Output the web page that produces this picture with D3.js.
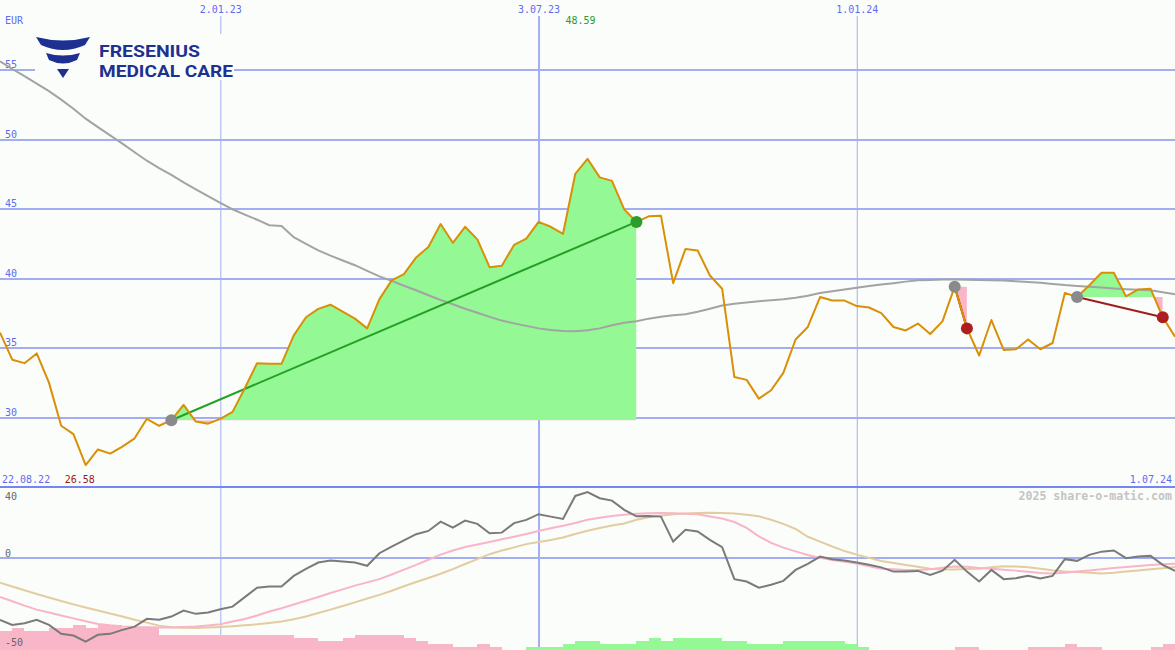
<!DOCTYPE html>
<html><head><meta charset="utf-8">
<script src="https://cdn.jsdelivr.net/npm/d3@7"></script>
<style>
html,body{margin:0;padding:0;background:#fbfdfb;}
svg{display:block;}
text{font-family:"DejaVu Sans Mono",monospace;font-size:10px;}
</style>
</head><body>
<svg id="c" width="1175" height="650"></svg>
<script>
// ---------- data (weekly, first week 29.08.22) ----------
const startDate = "2022-08-29";
const price = [36.1,34.15,33.9,34.6,32.5,29.4,28.8,26.58,27.7,27.4,
  27.9,28.5,29.9,29.4,29.8,30.9,29.7,29.55,29.9,30.4,
  32.1,33.9,33.85,33.85,35.9,37.2,37.8,38.1,37.6,37.1,
  36.4,38.5,39.85,40.3,41.5,42.25,43.9,42.55,43.7,42.8,
  40.8,40.9,42.4,42.85,44.05,43.7,43.2,47.5,48.59,47.25,
  47.0,44.95,44.05,44.45,44.5,39.65,42.1,42.0,40.2,39.25,
  32.9,32.7,31.35,31.95,33.2,35.6,36.5,38.65,38.4,38.4,
  38.0,37.9,37.5,36.5,36.25,36.75,36.0,36.9,39.4,36.4,
  34.45,37.0,34.85,34.9,35.6,34.9,35.35,38.95,38.65,39.5,
  40.4,40.4,38.7,39.2,39.25,37.2,35.8];
const movingAvg = [55.6,55.04,54.53,53.99,53.45,52.84,52.18,51.47,50.86,50.27,
  49.68,49.06,48.45,47.91,47.43,46.89,46.39,45.90,45.42,44.96,
  44.58,44.21,43.81,43.76,42.95,42.48,42.01,41.63,41.28,40.94,
  40.53,40.14,39.81,39.46,39.14,38.78,38.44,38.13,37.81,37.52,
  37.23,36.96,36.76,36.58,36.40,36.29,36.21,36.20,36.26,36.40,
  36.62,36.80,36.92,37.10,37.23,37.34,37.41,37.59,37.81,38.04,
  38.17,38.26,38.35,38.43,38.50,38.60,38.74,38.94,39.06,39.19,
  39.32,39.44,39.55,39.65,39.76,39.86,39.88,39.91,39.91,39.89,
  39.88,39.86,39.84,39.78,39.73,39.68,39.59,39.51,39.45,39.39,
  39.33,39.27,39.22,39.18,39.14,38.99,38.85];
const oscMain = [-43.7,-47.3,-46.1,-43.7,-47.3,-53.6,-54.8,-59.1,-54.3,-53.6,
  -50.8,-48.5,-43.0,-43.7,-41.4,-37.2,-39.5,-38.6,-36.2,-34.4,
  -27.7,-21.0,-20.2,-20.2,-12.7,-7.8,-3.3,-1.9,-2.6,-3.3,
  -5.6,3.3,8.0,12.3,16.7,19.0,25.6,21.4,26.3,24.0,
  17.4,17.8,24.5,26.8,30.8,29.1,27.5,43.7,46.4,42.1,
  40.4,33.9,29.3,29.6,29.1,11.5,19.8,18.6,12.7,7.5,
  -15.0,-16.7,-21.0,-19.0,-16.2,-8.5,-4.2,0.9,-0.9,-1.9,
  -3.2,-4.9,-6.7,-9.7,-9.7,-9.2,-12.0,-9.0,-1.4,-9.7,
  -16.7,-8.5,-15.0,-14.3,-12.7,-14.6,-12.7,-0.9,-2.1,2.1,
  4.4,5.2,-0.2,0.9,1.4,-4.9,-9.2];
const oscSignalPink = [-27.6,-30.6,-33.7,-36.5,-38.6,-40.7,-42.7,-44.7,-46.6,-47.6,
  -48.4,-48.8,-49.0,-49.1,-49.1,-48.8,-48.4,-47.7,-46.9,-44.9,
  -43.1,-40.7,-37.8,-35.5,-32.9,-30.3,-27.6,-24.8,-22.2,-19.6,
  -17.3,-15.0,-11.7,-8.3,-4.9,-1.3,2.3,5.2,7.7,9.4,
  11.2,13.1,14.9,16.8,19.0,20.9,22.7,24.6,26.9,28.3,
  29.5,30.5,31.1,31.4,31.7,31.4,31.2,30.7,29.2,27.8,
  25.3,21.1,15.2,10.6,7.2,4.6,2.0,0.0,-1.5,-2.8,
  -4.0,-5.9,-7.6,-8.1,-8.6,-8.6,-8.1,-7.0,-6.1,-6.2,
  -7.1,-7.7,-8.4,-9.0,-9.8,-10.7,-11.1,-10.5,-9.7,-8.9,
  -8.1,-7.1,-6.4,-5.7,-5.0,-4.5,-4.1];
const oscSignalTan = [-17.5,-20.2,-22.9,-25.5,-28.0,-30.4,-32.8,-35.0,-37.1,-39.3,
  -41.4,-43.6,-45.7,-47.8,-48.9,-49.3,-49.5,-49.2,-48.8,-48.3,
  -47.6,-46.9,-45.9,-44.9,-43.3,-41.3,-38.9,-36.5,-34.0,-31.4,
  -28.7,-26.1,-23.2,-20.0,-17.0,-14.2,-11.2,-7.9,-4.3,-0.9,
  2.6,5.2,7.4,9.7,11.2,12.6,14.4,16.8,19.1,21.1,
  22.8,24.3,26.9,28.6,29.8,30.7,31.3,31.7,31.8,31.6,
  31.3,30.5,29.3,26.9,24.0,20.4,14.9,11.5,8.0,4.8,
  2.3,0.0,-2.2,-3.6,-5.0,-6.3,-7.6,-8.2,-8.2,-7.9,
  -7.6,-6.6,-5.9,-6.1,-6.7,-7.7,-8.8,-9.6,-9.9,-10.5,
  -11.0,-10.5,-9.7,-8.9,-8.1,-7.3,-6.4];
const histogram = [-6,-7,-6,-6,-7,-7,-8,-7,-8,-8,
  -7,-7,-7,-5,-5,-5,-5,-5,-5,-5,
  -5,-5,-5,-5,-4,-4,-3,-3,-4,-5,
  -5,-5,-5,-4,-3,-2,-2,-1,-1,-2,
  -1,0,0,1,1,1,2,3,3,2,
  2,2,3,4,3,4,4,4,4,3,
  3,2,2,2,3,3,3,3,3,2,
  1,0,0,0,0,0,0,0,-1,-1,
  0,0,0,0,-1,-1,-1,-2,-1,-1,
  0,0,0,0,-1,-2];
const priceTicks = [30,35,40,45,50,55];
const oscTicks = [40,0,-50];
const dateTicks = ["2023-01-02","2023-07-03","2024-01-01"];
const dateTickLabels = ["2.01.23","3.07.23","1.01.24"];
const periodLabels = ["22.08.22","1.07.24"];
const signalStarts = [14,78,88];
const signalEnds = [52,79,95];

// ---------- setup ----------
const W = 1175, H = 650, mainBottom = 487;
const svg = d3.select("#c");
const parse = d3.timeParse("%Y-%m-%d");
const t0 = parse(startDate);
const dates = price.map((_, i) => d3.timeDay.offset(t0, 7 * i));

const x = d3.scaleTime().domain(d3.extent(dates)).range([0, W]);
const y = d3.scaleLinear().domain([25, 60]).range([mainBottom, 0]);
const yo = d3.scaleLinear().domain([-65, 50]).range([H, mainBottom]);
const hScale = d3.scaleLinear().domain([0, 1]).range([0, 3.1]);

const bg = "#fbfdfb";
svg.append("rect").attr("width", W).attr("height", H).attr("fill", bg);

// horizontal price grid
const gy = svg.append("g").call(d3.axisLeft(y).tickValues(priceTicks).tickSize(-W).tickFormat(d3.format("d")));
gy.select(".domain").remove();
gy.selectAll("line").attr("stroke", "#a3aef2").attr("stroke-width", 2).attr("shape-rendering", "crispEdges");
gy.selectAll("text").attr("x", 5).attr("dy", "0").attr("y", -2).attr("text-anchor", "start").attr("fill", "#5d6cf0");

// vertical date grid
const gx = svg.append("g").attr("transform", "translate(0,16)")
  .call(d3.axisTop(x).tickValues(dateTicks.map(parse)).tickSize(-(H - 16)).tickFormat((d, i) => dateTickLabels[i]));
gx.select(".domain").remove();
gx.selectAll("line").attr("stroke", "#a3aef2").attr("stroke-width", (d, i) => i === 1 ? 2 : 1);
gx.selectAll("text").attr("fill", "#5d6cf0").attr("y", -3);

// oscillator zero grid
const go = svg.append("g").call(d3.axisLeft(yo).tickValues([0]).tickSize(-W).tickFormat(""));
go.select(".domain").remove();
go.selectAll("line").attr("stroke", "#a3aef2").attr("stroke-width", 2).attr("shape-rendering", "crispEdges");

// panel separator
svg.append("line").attr("x1", 0).attr("x2", W).attr("y1", mainBottom).attr("y2", mainBottom)
  .attr("stroke", "#7686f0").attr("stroke-width", 2).attr("shape-rendering", "crispEdges");

// logo
const logo = svg.append("g");
logo.append("rect").attr("x", 35).attr("y", 34).attr("width", 199).attr("height", 46).attr("fill", bg);
const navy = "#1f3190";
logo.append("path").attr("d", "M36,37 Q63,44 90,37 L85,45 Q63,55 41,45 Z").attr("fill", navy);
logo.append("path").attr("d", "M46,53 Q63,58 80,53 L77,60 Q63,67 49,60 Z").attr("fill", navy);
logo.append("path").attr("d", "M57,69 L69,69 L63,78 Z").attr("fill", navy);
logo.append("text").attr("x", 99).attr("y", 57).text("FRESENIUS")
  .style("font-family", "Roboto, 'Liberation Sans', sans-serif").style("font-weight", "bold").style("font-size", "17px")
  .attr("fill", navy).attr("textLength", 101).attr("lengthAdjust", "spacingAndGlyphs");
logo.append("text").attr("x", 99).attr("y", 77).text("MEDICAL CARE")
  .style("font-family", "Roboto, 'Liberation Sans', sans-serif").style("font-weight", "bold").style("font-size", "17px")
  .attr("fill", navy).attr("textLength", 134).attr("lengthAdjust", "spacingAndGlyphs");

// signal fills
const defs = svg.append("defs");
signalStarts.forEach((s, k) => {
  const e = signalEnds[k];
  const base = price[s];
  const idx = d3.range(s, e + 1);
  const area = d3.area().x(i => x(dates[i])).y0(y(base)).y1(i => y(price[i]));
  const xs = x(dates[s]), xe = x(dates[e]);
  defs.append("clipPath").attr("id", "up" + k).append("rect")
    .attr("x", xs).attr("y", 0).attr("width", xe - xs).attr("height", y(base));
  defs.append("clipPath").attr("id", "dn" + k).append("rect")
    .attr("x", xs).attr("y", y(base)).attr("width", xe - xs).attr("height", mainBottom - y(base));
  svg.append("path").datum(idx).attr("d", area).attr("fill", "#94f894").attr("clip-path", `url(#up${k})`);
  svg.append("path").datum(idx).attr("d", area).attr("fill", "#f9b6c9").attr("clip-path", `url(#dn${k})`);
});

// moving average
svg.append("path").datum(d3.range(movingAvg.length))
  .attr("d", d3.line().x(i => x(dates[i])).y(i => y(movingAvg[i])))
  .attr("fill", "none").attr("stroke", "#a3a3a3").attr("stroke-width", 2);

// trend lines
signalStarts.forEach((s, k) => {
  const e = signalEnds[k];
  const up = price[e] > price[s];
  svg.append("line").attr("x1", x(dates[s])).attr("y1", y(price[s])).attr("x2", x(dates[e])).attr("y2", y(price[e]))
    .attr("stroke", up ? "#24a024" : "#a31c1c").attr("stroke-width", 2);
});

// price line
svg.append("path").datum(d3.range(price.length))
  .attr("d", d3.line().x(i => x(dates[i])).y(i => y(price[i])))
  .attr("fill", "none").attr("stroke", "#d98f06").attr("stroke-width", 2).attr("stroke-linejoin", "round");

// dots
signalStarts.forEach((s, k) => {
  const e = signalEnds[k];
  const up = price[e] > price[s];
  svg.append("circle").attr("cx", x(dates[s])).attr("cy", y(price[s])).attr("r", 6).attr("fill", "#8a8a8a");
  svg.append("circle").attr("cx", x(dates[e])).attr("cy", y(price[e])).attr("r", 6).attr("fill", up ? "#2a9d2a" : "#ad1f1f");
});

// histogram bars
svg.append("g").selectAll("rect").data(histogram.map((v, i) => ({v, i}))).join("rect")
  .attr("x", d => x(dates[d.i])).attr("width", d => x(dates[d.i + 1]) - x(dates[d.i]))
  .attr("y", d => H - hScale(Math.abs(d.v))).attr("height", d => hScale(Math.abs(d.v)))
  .attr("fill", d => d.v < 0 ? "#f9b6c9" : "#94f894").attr("shape-rendering", "crispEdges");

// oscillator lines
const oline = arr => d3.line().x((v, i) => x(dates[i])).y(v => yo(v))(arr);
svg.append("path").attr("d", oline(oscSignalTan)).attr("fill", "none").attr("stroke", "#e2cd9f").attr("stroke-width", 2);
svg.append("path").attr("d", oline(oscSignalPink)).attr("fill", "none").attr("stroke", "#f9b4c8").attr("stroke-width", 2);
svg.append("path").attr("d", oline(oscMain)).attr("fill", "none").attr("stroke", "#7a7a7a").attr("stroke-width", 2);

// labels
svg.append("text").attr("x", 5).attr("y", 24).attr("fill", "#5d6cf0").text("EUR");
oscTicks.forEach(v => {
  svg.append("text").attr("x", 5).attr("y", v === -50 ? 646 : yo(v) - 1).attr("fill", "#666").text(v);
});
svg.append("text").attr("x", 2).attr("y", 483).attr("fill", "#5d6cf0").text(periodLabels[0]);
svg.append("text").attr("x", 1172).attr("y", 483).attr("text-anchor", "end").attr("fill", "#5d6cf0").text(periodLabels[1]);
const iMax = d3.maxIndex(price), iMin = d3.minIndex(price);
svg.append("text").attr("x", x(dates[iMax]) - 22).attr("y", 24).attr("fill", "#2a9a2a").text(d3.format(".2f")(price[iMax]));
svg.append("text").attr("x", x(dates[iMin]) - 21).attr("y", 483).attr("fill", "#a01818").text(d3.format(".2f")(price[iMin]));
svg.append("text").attr("x", 1172).attr("y", 500).attr("text-anchor", "end").attr("fill", "#c4c4c4")
  .style("font-size", "11.6px").style("font-weight", "bold").text("2025 share-o-matic.com");
</script>
</body></html>
